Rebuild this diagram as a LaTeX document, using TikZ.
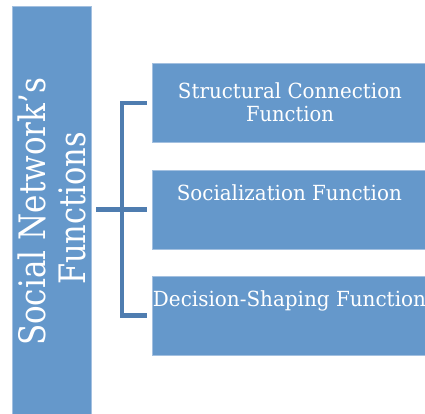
\documentclass[tikz,border=0pt]{standalone}
\usepackage{fontspec}
\setmainfont{DejaVu Serif}
\usepackage{graphicx}
\usetikzlibrary{calc}
\definecolor{boxfill}{HTML}{6598CB}
\definecolor{boxline}{HTML}{A3C0E0}
\definecolor{brk}{HTML}{4F7DB0}
\newcommand{\fitw}[2]{\resizebox{#1}{\height}{#2}}
\begin{document}
\begin{tikzpicture}[x=1pt,y=1pt,
  box/.style={rectangle, fill=boxfill, draw=boxline, line width=0.8pt, inner sep=0pt, outer sep=0pt},
  lbl/.style={text=white, inner sep=0pt, font=\fontsize{20.8}{20.8}\selectfont, anchor=base},
  sidelbl/.style={text=white, inner sep=0pt, font=\fontsize{36.4}{36.4}\selectfont, anchor=base, rotate=90},
  brkline/.style={draw=brk, line width=4.6pt}]
\useasboundingbox (0,0) rectangle (425,413);
\node[box, minimum width=79pt, minimum height=412pt] (main) at (51.5,201) {};
\node[box, minimum width=276pt, minimum height=79pt] (b1) at (290,310) {};
\node[box, minimum width=276pt, minimum height=79pt] (b2) at (290,203.5) {};
\node[box, minimum width=276pt, minimum height=79pt] (b3) at (290,97.5) {};
\node[lbl] (t1a) at (290,314) {\fitw{224pt}{Structural Connection}};
\node[lbl] (t1b) at (290,291) {\fitw{88pt}{Function}};
\node[lbl] (t2) at (289.3,213) {\fitw{225pt}{Socialization Function}};
\node[lbl] (t3) at (289.5,106.5) {\fitw{273pt}{Decision-Shaping Function}};
\node[sidelbl] (s1) at (45,201.1) {\fitw{268pt}{Social Network's}};
\node[sidelbl] (s2) at (85,204.7) {\fitw{153pt}{Functions}};
\coordinate (jx) at (122,0);
\draw[brkline] ([xshift=-5.5pt]b1.west) -- (jx |- b1.west) -- (jx |- b3.west) -- ([xshift=-5.5pt]b3.west);
\draw[brkline] ($(main.east |- b2.west)+(5pt,0)$) -- ([xshift=-5.5pt]b2.west);
\end{tikzpicture}
\end{document}
